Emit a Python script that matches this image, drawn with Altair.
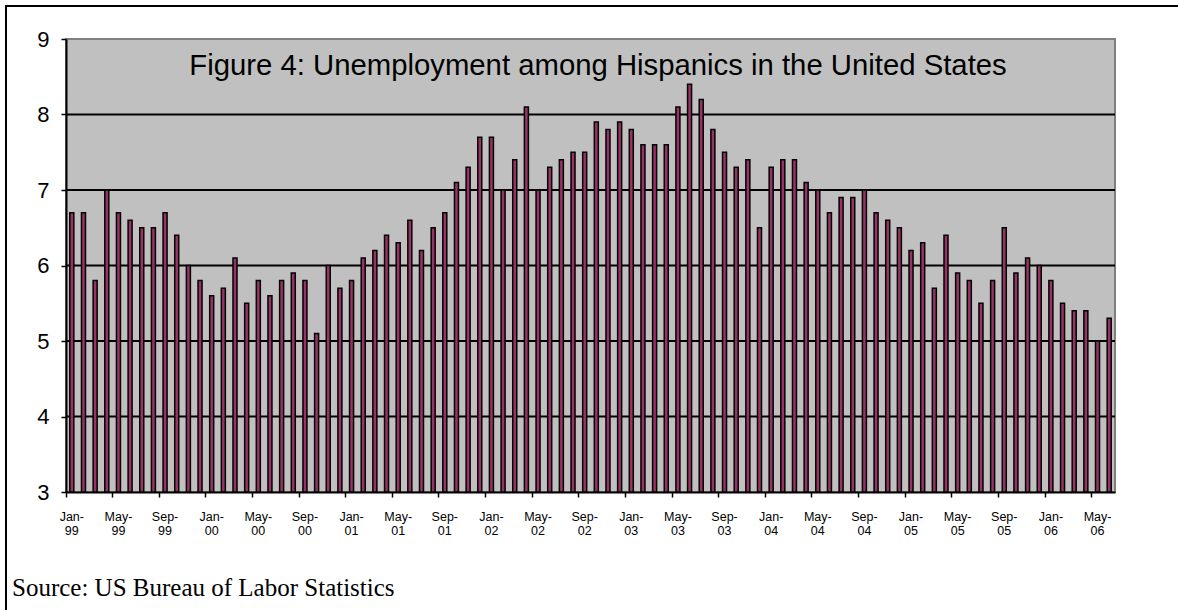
import altair as alt
import pandas as pd

MONTHS = ["Jan", "Feb", "Mar", "Apr", "May", "Jun", "Jul", "Aug", "Sep", "Oct", "Nov", "Dec"]
YEARS = ["99", "00", "01", "02", "03", "04", "05", "06"]

RATE_1999 = [6.7, 6.7, 5.8, 7.0, 6.7, 6.6, 6.5, 6.5, 6.7, 6.4, 6.0, 5.8]
RATE_2000 = [5.6, 5.7, 6.1, 5.5, 5.8, 5.6, 5.8, 5.9, 5.8, 5.1, 6.0, 5.7]
RATE_2001 = [5.8, 6.1, 6.2, 6.4, 6.3, 6.6, 6.2, 6.5, 6.7, 7.1, 7.3, 7.7]
RATE_2002 = [7.7, 7.0, 7.4, 8.1, 7.0, 7.3, 7.4, 7.5, 7.5, 7.9, 7.8, 7.9]
RATE_2003 = [7.8, 7.6, 7.6, 7.6, 8.1, 8.4, 8.2, 7.8, 7.5, 7.3, 7.4, 6.5]
RATE_2004 = [7.3, 7.4, 7.4, 7.1, 7.0, 6.7, 6.9, 6.9, 7.0, 6.7, 6.6, 6.5]
RATE_2005 = [6.2, 6.3, 5.7, 6.4, 5.9, 5.8, 5.5, 5.8, 6.5, 5.9, 6.1, 6.0]
RATE_2006 = [5.8, 5.5, 5.4, 5.4, 5.0, 5.3]

RATE = RATE_1999 + RATE_2000 + RATE_2001 + RATE_2002 + RATE_2003 + RATE_2004 + RATE_2005 + RATE_2006
LABELS = [f"{m}-{y}" for y in YEARS for m in MONTHS][:len(RATE)]
TICK_LABELS = LABELS[::4]
Y_TICKS = [3, 4, 5, 6, 7, 8, 9]
GRID = [4, 5, 6, 7, 8]

TITLE = "Figure 4: Unemployment among Hispanics in the United States"
SOURCE = "Source: US Bureau of Labor Statistics"

W, H = 1049, 453
PAD_L, PAD_T = 66, 39

df = pd.DataFrame({"month": LABELS, "rate": RATE})
grid_df = pd.DataFrame({"rate": GRID})
one = pd.DataFrame({"a": [0]})

yscale = alt.Scale(domain=[3, 9], zero=False, nice=False)
xscale = alt.Scale(domain=LABELS, paddingInner=0, paddingOuter=0)

yaxis = alt.Axis(
    values=Y_TICKS,
    labelFont="Liberation Sans",
    labelFontSize=22,
    labelColor="black",
    labelPadding=12,
    tickSize=5,
    tickColor="black",
    tickWidth=1.5,
    domainColor="black",
    domainWidth=2,
    grid=False,
)

grid = alt.Chart(grid_df).mark_rule(color="black", strokeWidth=2).encode(
    y=alt.Y("rate:Q", scale=yscale, title=None, axis=yaxis)
)

bars = alt.Chart(df).mark_bar(
    width=4, fill="#993366", stroke="black", strokeWidth=1.5, cornerRadius=0
).encode(
    x=alt.X(
        "month:O",
        scale=xscale,
        sort=LABELS,
        title=None,
        axis=alt.Axis(
            values=TICK_LABELS,
            bandPosition=0,
            labelAngle=0,
            labelExpr="[slice(datum.label, 0, 4), slice(datum.label, 4)]",
            labelFont="Liberation Sans",
            labelFontSize=12.5,
            labelColor="black",
            labelLineHeight=14,
            labelPadding=13,
            labelAlign="center",
            labelBaseline="top",
            tickSize=5,
            tickColor="black",
            tickWidth=1.5,
            domainColor="black",
            domainWidth=2,
            grid=False,
        ),
    ),
    y=alt.Y("rate:Q", scale=yscale, title=None, axis=yaxis),
    y2=alt.datum(3),
)

title = alt.Chart(one).mark_text(
    text=TITLE, font="Liberation Sans", fontSize=29.3, color="black",
    align="center", baseline="alphabetic",
).encode(x=alt.value(532), y=alt.value(36))

source = alt.Chart(one).mark_text(
    text=SOURCE, font="Liberation Serif", fontSize=25, color="black",
    align="left", baseline="alphabetic",
).encode(x=alt.value(12 - PAD_L), y=alt.value(596 - PAD_T))

frame_top = alt.Chart(one).mark_rule(color="black", strokeWidth=2).encode(
    x=alt.value(5 - PAD_L), x2=alt.value(1178 - PAD_L), y=alt.value(6 - PAD_T)
)
frame_left = alt.Chart(one).mark_rule(color="black", strokeWidth=2).encode(
    x=alt.value(6 - PAD_L), y=alt.value(5 - PAD_T), y2=alt.value(610 - PAD_T)
)

chart = alt.layer(grid, bars, title, source, frame_top, frame_left).properties(
    width=W,
    height=H,
    autosize=alt.AutoSizeParams(type="none"),
    padding={"left": PAD_L, "top": PAD_T, "right": 1178 - PAD_L - W, "bottom": 610 - PAD_T - H},
    background="white",
).configure_view(
    fill="#C0C0C0", stroke="#808080", strokeWidth=2
)

chart.save("out.html", embed_options={"renderer": "svg", "actions": False})
